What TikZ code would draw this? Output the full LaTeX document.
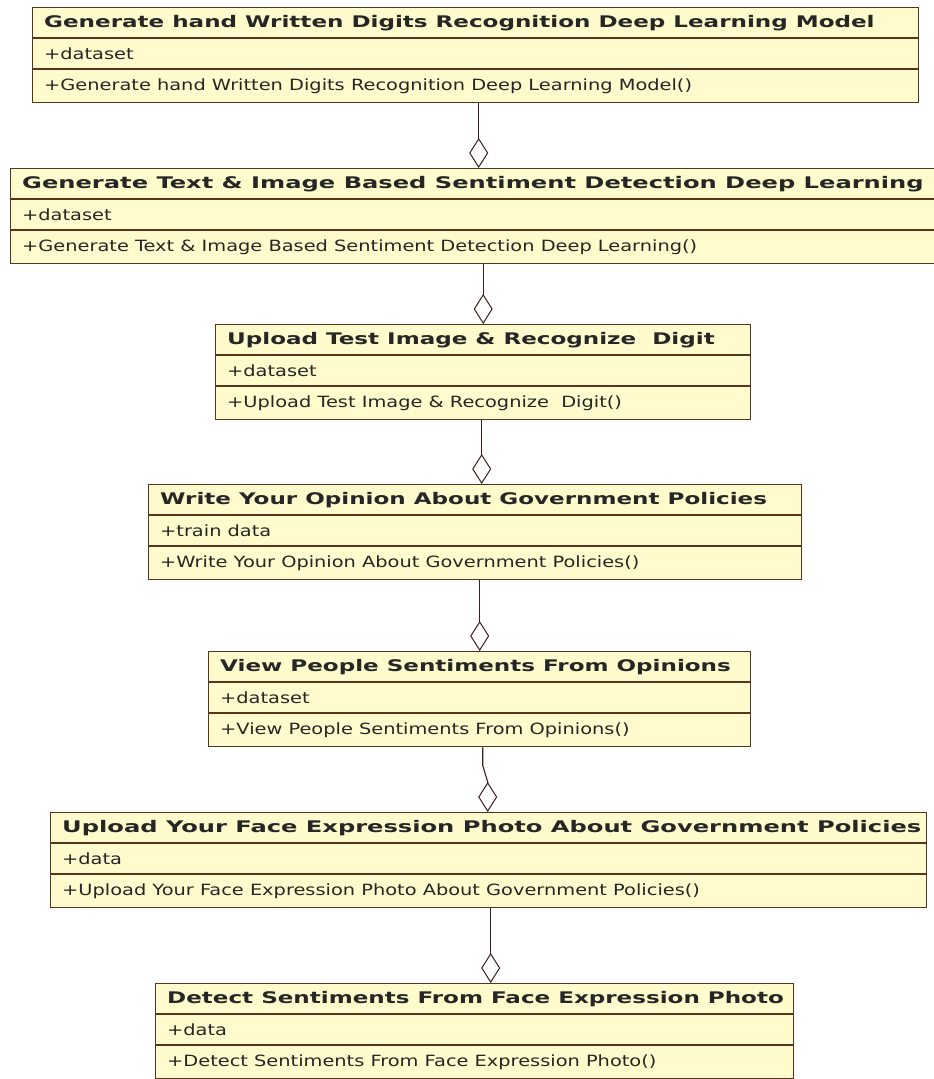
\documentclass[tikz,border=0pt]{standalone}
\usepackage{fontspec}
\setmainfont{DejaVu Sans}
\newfontfamily\umltitlefont[FakeStretch=1.44]{DejaVu Sans}
\newfontfamily\umlwidefont[FakeStretch=1.51]{DejaVu Sans}
\newfontfamily\umltextfont[FakeStretch=1.25]{DejaVu Sans}
\usepackage{tikz}
\usetikzlibrary{positioning}
\usetikzlibrary{arrows.meta,calc}

\definecolor{umlfill}{RGB}{255,251,204}
\definecolor{umlline}{RGB}{88,52,30}
\definecolor{linkline}{RGB}{60,30,30}

\tikzset{
  umlbox/.style={draw=umlline,fill=umlfill,line width=1.4pt,rectangle,inner sep=0pt,anchor=north west,minimum height=95pt},
  umlsep/.style={draw=umlline,line width=1.2pt},
  umltitle/.style={anchor=west,inner sep=0pt,font=\fontsize{16}{19}\umltitlefont\bfseries,text=black!85},
  umltitlewide/.style={umltitle,font=\fontsize{16}{19}\umlwidefont\bfseries},
  umlattr/.style={anchor=west,inner sep=0pt,font=\fontsize{15.5}{18}\umltextfont,text=black!85},
  aggr/.style={draw=linkline,line width=1.1pt,-{Diamond[open,length=30pt,width=19pt,line width=1pt]}}
}

% one class box: [title style] name, x, y, width, title, attribute, operation
\newcommand{\umlclass}[8][umltitle]{%
  \node[umlbox,minimum width=#5] (#2) at (#3,#4) {};
  \draw[umlsep] ([yshift=-31pt]#2.north west) -- ([yshift=-31pt]#2.north east);
  \draw[umlsep] ([yshift=-62pt]#2.north west) -- ([yshift=-62pt]#2.north east);
  \node[#1] (#2-t) at ([xshift=12pt,yshift=-16pt]#2.north west) {#6};
  \node[umlattr] (#2-a) at ([xshift=12pt,yshift=-47pt]#2.north west) {#7};
  \node[umlattr] (#2-o) at ([xshift=12pt,yshift=-79pt]#2.north west) {#8};
}

\begin{document}
\begin{tikzpicture}[x=1pt,y=-1pt]
  \useasboundingbox[fill=white] (0,0) rectangle (934,1079);

  \umlclass{hwd}{32}{7}{886pt}{Generate hand Written Digits Recognition Deep Learning Model}{+dataset}{+Generate hand Written Digits Recognition Deep Learning Model()}
  \umlclass[umltitlewide]{tis}{10}{168}{940pt}{Generate Text \& Image Based Sentiment Detection Deep Learning}{+dataset}{+Generate Text \& Image Based Sentiment Detection Deep Learning()}
  \umlclass{utd}{215}{324}{535pt}{Upload Test Image \& Recognize\ \ Digit}{+dataset}{+Upload Test Image \& Recognize\ \ Digit()}
  \umlclass{wyo}{148}{484}{653pt}{Write Your Opinion About Government Policies}{+train data}{+Write Your Opinion About Government Policies()}
  \umlclass{vps}{208}{651}{542pt}{View People Sentiments From Opinions}{+dataset}{+View People Sentiments From Opinions()}
  \umlclass[umltitlewide]{fep}{50}{812}{876pt}{Upload Your Face Expression Photo About Government Policies}{+data}{+Upload Your Face Expression Photo About Government Policies()}
  \umlclass{dsf}{155}{983}{638pt}{Detect Sentiments From Face Expression Photo}{+data}{+Detect Sentiments From Face Expression Photo()}

  % aggregations
  \draw[aggr] ([xshift=3pt]hwd.south) -- ([xshift=3pt]hwd.south |- tis.north);
  \draw[aggr] (tis.south -| utd.north) -- (utd.north);
  \draw[aggr] ([xshift=-1.5pt]utd.south) -- ([xshift=-1.5pt]utd.south |- wyo.north);
  \draw[aggr] (wyo.south -| vps.north) -- (vps.north);
  \draw[aggr] ([xshift=3pt]vps.south) -- ([xshift=3pt,yshift=-18pt]vps.south)
    -- ([xshift=-1pt,yshift=30pt]fep.north) -- ([xshift=-1pt]fep.north);
  \draw[aggr] ([xshift=2pt]fep.south) -- ([xshift=2pt]fep.south |- dsf.north);
\end{tikzpicture}
\end{document}
